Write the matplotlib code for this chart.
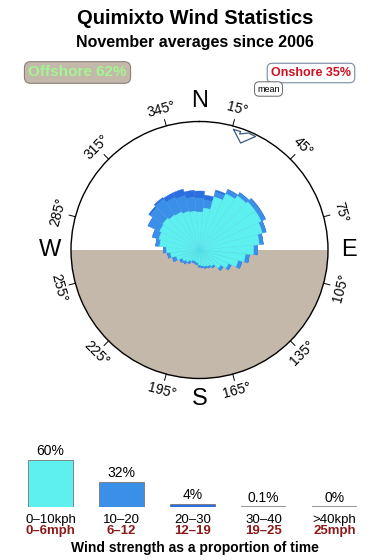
import numpy as np
import matplotlib.pyplot as plt

plt.rcParams['font.family'] = ['Liberation Sans', 'DejaVu Sans']

# Rose data: direction (deg) and radial extent of each speed class (px of a 128.5 px circle)
directions = np.arange(0, 360, 10)
rose_0_10 = [38, 42, 55, 62, 66, 68, 68, 65, 60, 54, 46, 40, 32, 26, 20, 18, 17, 16,
             15, 13, 12, 12, 14, 17, 19, 24, 29, 33, 40, 42, 44, 45, 43, 42, 40, 39]
rose_10_20 = [14, 8, 5, 4, 4, 4, 4, 4, 4, 4, 4, 4, 3, 3, 2, 2, 2, 2,
              2, 2, 2, 2, 3, 3, 3, 4, 3, 3, 4, 6, 12, 15, 19, 16, 16, 14]
rose_20_30 = [7, 5, 2, 1, 0, 1, 1, 0, 0, 0, 0, 0, 0, 0, 0, 0, 0, 0,
              0, 0, 0, 0, 0, 0, 0, 0, 0, 0, 0, 1, 1, 2, 2, 5, 7, 7]
circle_px = 128.5
mean_dir = 20.7

# Speed distribution
speed_kph = ['0\u201310kph', '10\u201320', '20\u201330', '30\u201340', '>40kph']
speed_mph = ['0\u20136mph', '6\u201312', '12\u201319', '19\u201325', '25mph']
speed_pct = [60, 32, 4, 0.1, 0]
speed_txt = ['60%', '32%', '4%', '0.1%', '0%']

c_cyan = '#5ef0ee'
c_blue = '#3a8fe6'
c_dark = '#2a6fe0'
c_land = '#c4b8ab'
c_red = '#8b1a1a'

fig = plt.figure(figsize=(3.9, 5.6), dpi=100)
W, H = 390, 560

fig.text(0.5, 1 - 18 / H, 'Quimixto Wind Statistics', ha='center', va='center',
         fontsize=14.5, fontweight='bold')
fig.text(0.5, 1 - 43 / H, 'November averages since 2006', ha='center', va='center',
         fontsize=11.5, fontweight='bold')

fig.text(77.5 / W, 1 - 72.5 / H, 'Offshore 62%', ha='center', va='center',
         fontsize=11, fontweight='bold', color='#a2f590',
         bbox=dict(boxstyle='round,pad=0.25,rounding_size=0.4', fc=c_land, ec='#8a8178', lw=0.8))
fig.text(311 / W, 1 - 73 / H, 'Onshore 35%', ha='center', va='center',
         fontsize=9, fontweight='bold', color='#cc1020',
         bbox=dict(boxstyle='round,pad=0.3,rounding_size=0.4', fc='white', ec='#7a8aa0', lw=0.8))
fig.text(268.5 / W, 1 - 89 / H, 'mean', ha='center', va='center', fontsize=6.5,
         bbox=dict(boxstyle='round,pad=0.3,rounding_size=0.5', fc='white', ec='#666666', lw=0.7))

# rose
cx, cy, R = 199.5, 250, circle_px
ax = fig.add_axes([(cx - R) / W, (H - cy - R) / H, 2 * R / W, 2 * R / H], projection='polar')
ax.set_theta_zero_location('N')
ax.set_theta_direction(-1)
ax.set_ylim(0, 1)
ax.grid(False)
ax.set_xticks([])
ax.set_yticks([])
ax.spines['polar'].set_linewidth(1.0)
ax.set_facecolor('white')

ax.bar(np.pi, 1.0, width=np.pi, color=c_land, zorder=0.5, linewidth=0)

th = np.deg2rad(directions)
wd = np.deg2rad(10)
r1 = np.array(rose_0_10) / circle_px
r2 = np.array(rose_10_20) / circle_px
r3 = np.array(rose_20_30) / circle_px
ax.bar(th, r3, width=wd, bottom=r1 + r2, color=c_dark, edgecolor=c_dark, lw=0.3, zorder=2)
ax.bar(th, r2, width=wd, bottom=r1, color=c_blue, edgecolor=c_blue, lw=0.3, zorder=2)
ax.bar(th, r1, width=wd, color=c_cyan, edgecolor='#52dcea', lw=0.3, zorder=2)

# mean marker near rim
m = np.deg2rad(mean_dir)
px0, py0 = 0.96 * np.sin(m), 0.96 * np.cos(m)
shape = np.array([(-9.5, 5.1), (-2.5, 3.1), (-3.5, 0.6), (5.5, 1.6), (12.5, -1.9),
                  (-2.5, -8.4), (-9.5, 5.1)]) / circle_px
mx = px0 + shape[:, 0]
my = py0 + shape[:, 1]
ax.plot(np.arctan2(mx, my), np.hypot(mx, my), color='#3a5a80', lw=0.9, zorder=3)

for deg in range(15, 360, 30):
    t = np.deg2rad(deg)
    ax.plot([t, t], [1.0, 1.05], color='black', lw=0.7, clip_on=False)
    rot = -deg
    while rot <= -90:
        rot += 180
    ax.text(t, 1.135, f'{deg}\u00b0', ha='center', va='center', rotation=rot,
            rotation_mode='anchor', fontsize=10, clip_on=False)

for lab, deg in zip(['N', 'E', 'S', 'W'], [0, 90, 180, 270]):
    ax.text(np.deg2rad(deg), 1.16, lab, ha='center', va='center', fontsize=17, clip_on=False)

# speed bars
base_y = 507
bx = fig.add_axes([15 / W, (H - base_y) / H, 355 / W, 78 / H])
x = np.arange(len(speed_pct))
cols = [c_cyan, c_blue, c_dark, '#999999', '#999999']
bx.hlines(np.zeros(len(x)), x - 0.315, x + 0.315, color='#999999', lw=1.5)
bx.bar(x, speed_pct, width=0.63, color=cols, edgecolor='#777777', lw=0.6, zorder=3)
bx.set_xlim(-0.5, 4.5)
bx.set_ylim(0, 100)
bx.axis('off')
for i in x:
    bx.annotate(speed_txt[i], (i, speed_pct[i]), xytext=(0, 6.5), textcoords='offset points',
                ha='center', va='center', fontsize=10)
    bx.annotate(speed_kph[i], (i, 0), xytext=(0, -9.5), textcoords='offset points',
                ha='center', va='center', fontsize=9.5)
    bx.annotate(speed_mph[i], (i, 0), xytext=(0, -17.5), textcoords='offset points',
                ha='center', va='center', fontsize=9.5, color=c_red, fontweight='bold')
fig.text(0.5, 1 - 548 / H, 'Wind strength as a proportion of time', ha='center', va='center',
         fontsize=10, fontweight='bold')

fig.savefig('out.png', dpi=100)
